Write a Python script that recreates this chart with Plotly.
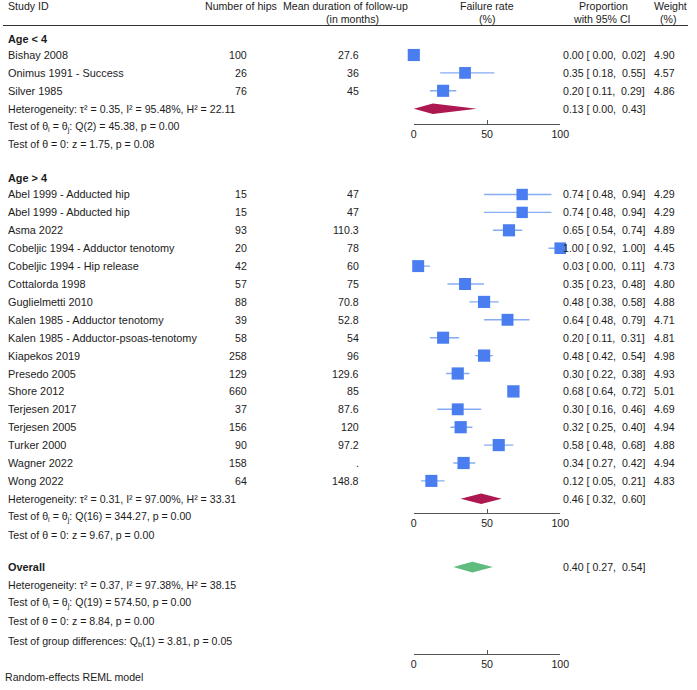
import plotly.graph_objects as go

# ---------------- data ----------------
g1_label = "Age &lt; 4"
g1_studies = ["Bishay 2008", "Onimus 1991 - Success", "Silver 1985"]
g1_hips = [100, 26, 76]
g1_followup = ["27.6", "36", "45"]
g1_prop = [0.00, 0.35, 0.20]
g1_lo = [0.00, 0.18, 0.11]
g1_hi = [0.02, 0.55, 0.29]
g1_weight = [4.90, 4.57, 4.86]
g1_pooled = [0.13, 0.00, 0.43]
g1_stats = ["Heterogeneity: τ² = 0.35, I² = 95.48%, H² = 22.11",
            "Test of θ<sub>i</sub> = θ<sub>j</sub>: Q(2) = 45.38, p = 0.00",
            "Test of θ = 0: z = 1.75, p = 0.08"]

g2_label = "Age &gt; 4"
g2_studies = ["Abel 1999 - Adducted hip", "Abel 1999 - Abducted hip", "Asma 2022",
              "Cobeljic 1994 - Adductor tenotomy", "Cobeljic 1994 - Hip release",
              "Cottalorda 1998", "Guglielmetti 2010", "Kalen 1985 - Adductor tenotomy",
              "Kalen 1985 - Adductor-psoas-tenotomy", "Kiapekos 2019", "Presedo 2005",
              "Shore 2012", "Terjesen 2017", "Terjesen 2005", "Turker 2000",
              "Wagner 2022", "Wong 2022"]
g2_hips = [15, 15, 93, 20, 42, 57, 88, 39, 58, 258, 129, 660, 37, 156, 90, 158, 64]
g2_followup = ["47", "47", "110.3", "78", "60", "75", "70.8", "52.8", "54", "96",
               "129.6", "85", "87.6", "120", "97.2", ".", "148.8"]
g2_prop = [0.74, 0.74, 0.65, 1.00, 0.03, 0.35, 0.48, 0.64, 0.20, 0.48, 0.30, 0.68,
           0.30, 0.32, 0.58, 0.34, 0.12]
g2_lo = [0.48, 0.48, 0.54, 0.92, 0.00, 0.23, 0.38, 0.48, 0.11, 0.42, 0.22, 0.64,
         0.16, 0.25, 0.48, 0.27, 0.05]
g2_hi = [0.94, 0.94, 0.74, 1.00, 0.11, 0.48, 0.58, 0.79, 0.31, 0.54, 0.38, 0.72,
         0.46, 0.40, 0.68, 0.42, 0.21]
g2_weight = [4.29, 4.29, 4.89, 4.45, 4.73, 4.80, 4.88, 4.71, 4.81, 4.98, 4.93, 5.01,
             4.69, 4.94, 4.88, 4.94, 4.83]
g2_pooled = [0.46, 0.32, 0.60]
g2_stats = ["Heterogeneity: τ² = 0.31, I² = 97.00%, H² = 33.31",
            "Test of θ<sub>i</sub> = θ<sub>j</sub>: Q(16) = 344.27, p = 0.00",
            "Test of θ = 0: z = 9.67, p = 0.00"]

overall_label = "Overall"
overall_pooled = [0.40, 0.27, 0.54]
overall_stats = ["Heterogeneity: τ² = 0.37, I² = 97.38%, H² = 38.15",
                 "Test of θ<sub>i</sub> = θ<sub>j</sub>: Q(19) = 574.50, p = 0.00",
                 "Test of θ = 0: z = 8.84, p = 0.00"]
group_test = "Test of group differences: Q<sub>b</sub>(1) = 3.81, p = 0.05"
footnote = "Random-effects REML model"

axis_ticks = [0, 50, 100]
header_cols = [("Study ID", ""), ("Number of hips", ""),
               ("Mean duration of follow-up", "(in months)"),
               ("Failure rate", "(%)"), ("Proportion", "with 95% CI"), ("Weight", "(%)")]

# ---------------- layout geometry ----------------
W, H = 697, 690
PX0, PX100 = 418, 567          # pixel of 0 and 100 on the failure-rate scale
FONT = "Liberation Sans, Arial, Helvetica, sans-serif"
FS = 10.6
FS_NAME = 10.9
TXT = "#1c1c1c"
BLUE = "#4a7ef0"
CI_BLUE = "#86acf2"
RED = "#ad1850"
GREEN = "#5fbb7e"

STEP = 17.9
cur = 38.5
y_g1_label = cur
cur += 16.5
y_g1 = [cur + i * STEP for i in range(len(g1_studies))]
cur = y_g1[-1] + STEP
y_g1_stats = [cur + i * STEP for i in range(3)]
y_g1_axis = y_g1_stats[0] + 15.5
cur = y_g1_stats[-1] + 33.5
y_g2_label = cur
cur += 16.5
y_g2 = [cur + i * STEP for i in range(len(g2_studies))]
cur = y_g2[-1] + STEP
y_g2_stats = [cur + i * STEP for i in range(3)]
y_g2_axis = y_g2_stats[0] + 14.5
cur = y_g2_stats[-1] + 32.5
y_ov_label = cur
y_ov_stats = [cur + (i + 1) * STEP for i in range(3)]
y_grp = y_ov_stats[-1] + 21.5
y_ov_axis = y_grp + 11.5
y_foot = 677

def pxx(p):
    return p / W

def pxy(p):
    return 1 - p / H

def ci_text(p, lo, hi):
    return f"{p:.2f} [{lo:5.2f}, {hi:5.2f}]".replace(" ", "\u00a0")

fig = go.Figure()

annotations = []
def ann(text, xp, y, anchor="left", bold=False, size=FS):
    annotations.append(dict(text=f"<b>{text}</b>" if bold else text, x=pxx(xp), xref="paper",
                            y=pxy(y), yref="paper", xanchor=anchor, yanchor="middle",
                            showarrow=False, borderpad=0, borderwidth=0,
                            font=dict(family=FONT, size=size, color=TXT)))

# headers
ann(header_cols[0][0], 5, 6)
ann(header_cols[1][0], 242, 6, "center")
ann(header_cols[2][0], 349, 6, "center")
ann(header_cols[2][1], 356, 19.5, "center")
ann(header_cols[3][0], 492, 6, "center")
ann(header_cols[3][1], 492, 19.5, "center")
ann(header_cols[4][0], 611, 6, "center")
ann(header_cols[4][1], 610, 19.5, "center")
ann(header_cols[5][0], 679.5, 6, "center")
ann(header_cols[5][1], 677, 19.5, "center")

# group 1 / group 2 rows
for label, ylab, studies, hips, fu, wt, ys, stats, ystats in [
        (g1_label, y_g1_label, g1_studies, g1_hips, g1_followup, g1_weight, y_g1, g1_stats, y_g1_stats),
        (g2_label, y_g2_label, g2_studies, g2_hips, g2_followup, g2_weight, y_g2, g2_stats, y_g2_stats)]:
    ann(label, 5, ylab, bold=True, size=FS_NAME)
    for s, h, f, w, y in zip(studies, hips, fu, wt, ys):
        ann(s, 5, y, size=FS_NAME)
        ann(str(h), 248.5, y, "right")
        ann(f, 362, y, "right")
        ann(f"{w:.2f}", 683.5, y, "right")
    for s, y in zip(stats, ystats):
        ann(s, 5, y)

ann(overall_label, 5, y_ov_label, bold=True, size=FS_NAME)
for s, y in zip(overall_stats, y_ov_stats):
    ann(s, 5, y)
ann(group_test, 5, y_grp)
ann(footnote, 2, y_foot)

# CI text column
ci_strings = [ci_text(*t) for t in zip(g1_prop, g1_lo, g1_hi)] + [ci_text(*g1_pooled)] + \
             [ci_text(*t) for t in zip(g2_prop, g2_lo, g2_hi)] + [ci_text(*g2_pooled)] + \
             [ci_text(*overall_pooled)]
ci_ys = y_g1 + [y_g1_stats[0]] + y_g2 + [y_g2_stats[0]] + [y_ov_label]
for s, y in zip(ci_strings, ci_ys):
    ann(s, 570, y)

# one subplot per section: y axis in pixel units, x axis (0-100) drawn at its bottom
sections = [("x", "y", 30, y_g1_axis), ("x2", "y2", y_g1_axis + 1, y_g2_axis),
            ("x3", "y3", y_g2_axis + 1, y_ov_axis)]

def add_group(prop, lo, hi, wt, ys, pooled, ypool, xa, ya, dcolor):
    lx, ly = [], []
    for l, h, y in zip(lo, hi, ys):
        lx += [l * 100, h * 100, None]
        ly += [y, y, None]
    if lx:
        fig.add_trace(go.Scatter(x=lx, y=ly, mode="lines", line=dict(color=CI_BLUE, width=1.4),
                                 xaxis=xa, yaxis=ya, hoverinfo="skip", showlegend=False))
        fig.add_trace(go.Scatter(x=[p * 100 for p in prop], y=ys, mode="markers",
                                 marker=dict(symbol="square", color=BLUE, opacity=1,
                                             size=[12.3 * (w / 5.01) ** 0.5 for w in wt],
                                             line=dict(width=0, color=BLUE)),
                                 cliponaxis=False, xaxis=xa, yaxis=ya, showlegend=False))
    p, l, h = pooled
    hh = 5.3
    fig.add_trace(go.Scatter(x=[l * 100, p * 100, h * 100, p * 100, l * 100],
                             y=[ypool, ypool - hh, ypool, ypool + hh, ypool],
                             mode="lines", fill="toself", fillcolor=dcolor,
                             line=dict(width=0, color=dcolor), xaxis=xa, yaxis=ya,
                             hoverinfo="skip", showlegend=False))

add_group(g1_prop, g1_lo, g1_hi, g1_weight, y_g1, g1_pooled, y_g1_stats[0], "x", "y", RED)
add_group(g2_prop, g2_lo, g2_hi, g2_weight, y_g2, g2_pooled, y_g2_stats[0], "x2", "y2", RED)
add_group([], [], [], [], [], overall_pooled, y_ov_label, "x3", "y3", GREEN)

dom = [PX0 / W, PX100 / W]
layout_axes = {}
for i, (xa, ya, top, bottom) in enumerate(sections):
    xkey = "xaxis" if i == 0 else f"xaxis{i + 1}"
    ykey = "yaxis" if i == 0 else f"yaxis{i + 1}"
    layout_axes[xkey] = dict(domain=dom, range=[0, 100], anchor=ya,
                             tickvals=axis_ticks, ticktext=[str(t) for t in axis_ticks],
                             ticks="inside", ticklen=4, tickcolor="#555555", tickwidth=1,
                             showline=True, linecolor="#555555", linewidth=1,
                             showgrid=False, zeroline=False, side="bottom", fixedrange=True,
                             tickfont=dict(family=FONT, size=FS, color=TXT))
    layout_axes[ykey] = dict(domain=[pxy(bottom), pxy(top)], range=[bottom, top],
                             anchor=xa, visible=False, fixedrange=True)

fig.update_layout(
    width=W, height=H, margin=dict(l=0, r=0, t=0, b=0),
    paper_bgcolor="white", plot_bgcolor="white",
    annotations=annotations,
    shapes=[dict(type="line", xref="paper", x0=0, x1=1, yref="paper",
                 y0=pxy(25.5), y1=pxy(25.5), line=dict(color="#333333", width=1))],
    showlegend=False,
    **layout_axes,
)

fig.write_html("out.html", config={"displayModeBar": False},
               post_script="document.body.style.margin='0';document.body.style.padding='0';")
